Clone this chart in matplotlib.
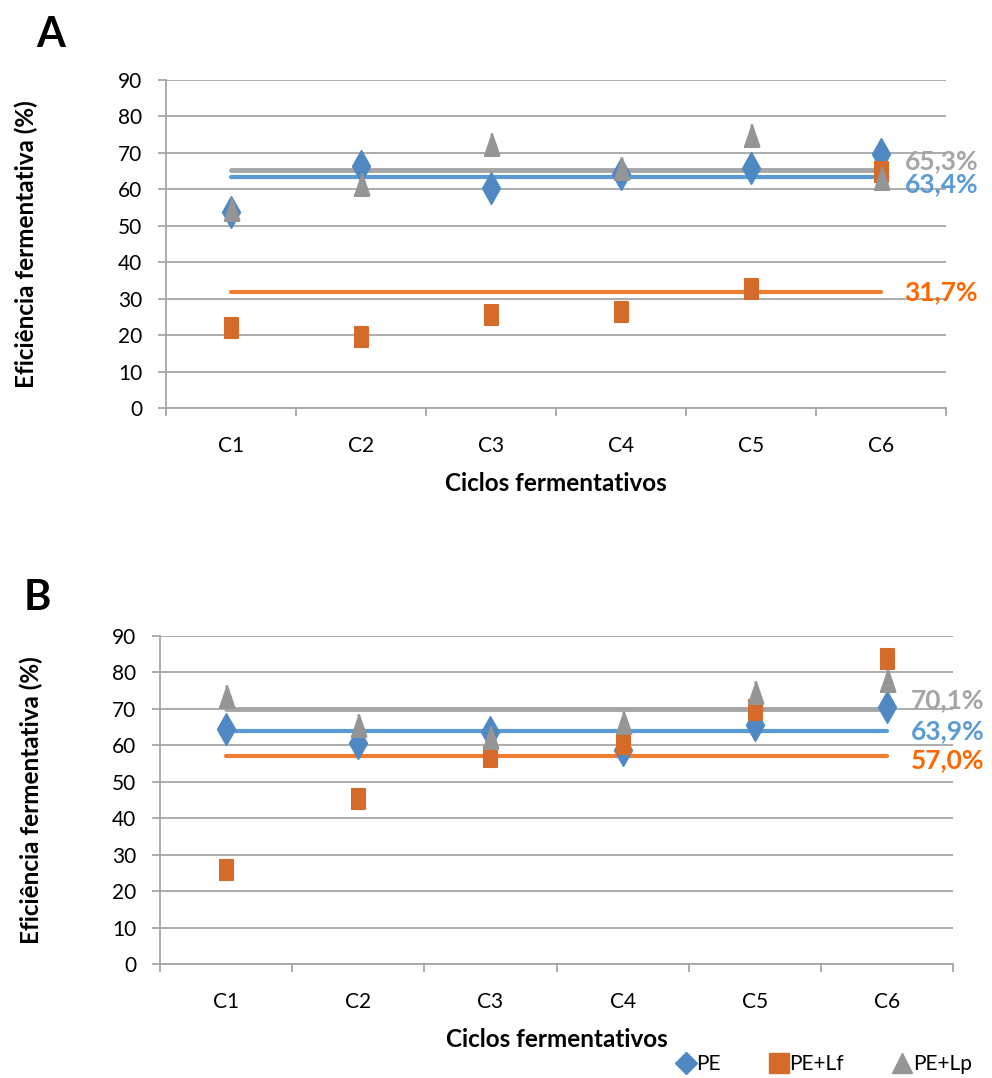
import numpy as np
import matplotlib
matplotlib.use("Agg")
import matplotlib.pyplot as plt
from matplotlib.lines import Line2D

plt.rcParams['font.family'] = ['Lato', 'DejaVu Sans']

ciclos = ['C1', 'C2', 'C3', 'C4', 'C5', 'C6']

# painel A
pe_a = [53.8, 66.3, 60.3, 64.3, 65.9, 69.8]
lf_a = [22.0, 19.5, 25.5, 26.3, 32.6, 64.8]
lp_a = [54.6, 61.5, 72.4, 65.9, 75.0, 63.0]
media_a = [63.4, 31.7, 65.3]  # PE, PE+Lf, PE+Lp

# painel B
pe_b = [64.5, 60.6, 63.7, 58.7, 65.6, 70.5]
lf_b = [25.8, 45.3, 56.8, 60.4, 69.7, 83.7]
lp_b = [73.6, 65.6, 62.3, 66.4, 74.6, 78.0]
media_b = [63.9, 57.0, 70.1]

yticks = [0, 10, 20, 30, 40, 50, 60, 70, 80, 90]

c_pe, c_lf, c_lp = '#4F88C2', '#D56B2A', '#959595'
c_mpe, c_mlf, c_mlp = '#5B9BD5', '#ED7D31', '#A5A5A5'
c_tpe, c_tlf, c_tlp = '#5B9BD5', '#FF6600', '#A5A5A5'

grid_c = '#A6A6A6'

sq = [(-0.32, -0.5), (0.32, -0.5), (0.32, 0.5), (-0.32, 0.5)]
tri = [(-0.34, -0.5), (0.34, -0.5), (0.0, 0.5)]

W, H = 992, 1078
fig = plt.figure(figsize=(W / 100, H / 100), dpi=100)


def painel(rect, pe, lf, lp, medias, letra, letra_xy, label_y, ypad):
    ax = fig.add_axes(rect)
    x = np.arange(1, len(ciclos) + 1)
    ax.set_xlim(0.5, 6.5)
    ax.set_ylim(0, 90)
    ax.set_yticks(yticks)
    ax.yaxis.grid(True, color=grid_c, lw=1.3, zorder=0)
    ax.set_axisbelow(True)
    for s in ['top', 'right']:
        ax.spines[s].set_visible(False)
    for s in ['left', 'bottom']:
        ax.spines[s].set_color(grid_c)
        ax.spines[s].set_linewidth(1.3)
    ax.tick_params(axis='y', length=6, color=grid_c, width=1.3, pad=11, labelsize=15)
    ax.set_xticks(np.arange(0.5, 7, 1))
    ax.set_xticklabels([])
    ax.tick_params(axis='x', which='major', length=6, color=grid_c, width=1.3)
    ax.set_xticks(x, minor=True)
    ax.set_xticklabels(ciclos, minor=True)
    ax.tick_params(axis='x', which='minor', length=0, pad=20, labelsize=15)

    # linhas de media
    m_pe, m_lf, m_lp = medias
    ax.plot([1, 6], [m_lf, m_lf], color=c_mlf, lw=3, solid_capstyle='round', zorder=2)
    ax.plot([1, 6], [m_lp, m_lp], color=c_mlp, lw=3.5, solid_capstyle='round', zorder=2)
    ax.plot([1, 6], [m_pe, m_pe], color=c_mpe, lw=3, solid_capstyle='round', zorder=2)

    ax.plot(x, pe, ls='none', marker='d', ms=16, color=c_pe, mec=c_pe, zorder=3)
    ax.plot(x, lf, ls='none', marker=sq, ms=15, color=c_lf, mec=c_lf, mew=1.5,
            zorder=4)
    ax.plot(x, lp, ls='none', marker=tri, ms=16, color=c_lp, mec=c_lp, mew=2,
            zorder=5)

    # rotulos de media
    tx = 6.18
    ty = label_y
    ax.text(tx, ty[2], f"{m_lp:.1f}%".replace('.', ','), color=c_tlp,
            fontsize=19, fontweight='bold', va='center', ha='left', clip_on=False)
    ax.text(tx, ty[0], f"{m_pe:.1f}%".replace('.', ','), color=c_tpe,
            fontsize=19, fontweight='bold', va='center', ha='left', clip_on=False)
    ax.text(tx, ty[1], f"{m_lf:.1f}%".replace('.', ','), color=c_tlf,
            fontsize=19, fontweight='bold', va='center', ha='left', clip_on=False)

    ax.set_xlabel('Ciclos fermentativos', fontsize=17.5, fontweight='bold',
                  labelpad=12)
    ax.set_ylabel('Eficiência fermentativa (%)', fontsize=17.5, fontweight='bold',
                  labelpad=ypad)
    fig.text(letra_xy[0] / W, 1 - letra_xy[1] / H, letra, fontsize=30,
             fontweight='bold', ha='center', va='center')
    return ax


ax_a = painel([166 / W, 1 - 408 / H, 780 / W, 328 / H], pe_a, lf_a, lp_a,
              media_a, 'A', (51, 35), (63.4 - 2.0, 31.7, 65.3 + 2.3), 58)
ax_b = painel([160 / W, 1 - 964 / H, 793 / W, 328 / H], pe_b, lf_b, lp_b,
              media_b, 'B', (37, 598), (63.9, 57.0 - 1.0, 70.1 + 2.3), 50)

handles = [
    Line2D([], [], ls='none', marker='D', ms=11, color=c_pe),
    Line2D([], [], ls='none', marker='s', ms=14, color=c_lf),
    Line2D([], [], ls='none', marker='^', ms=15, color=c_lp),
]
fig.legend(handles, ['PE', 'PE+Lf', 'PE+Lp'], loc='center right',
           bbox_to_anchor=(982 / W, 1 - 1064 / H), ncol=3, frameon=False,
           fontsize=15, handletextpad=0.0, columnspacing=2.3, handlelength=1.0,
           borderpad=0)

fig.savefig('out.png', dpi=100)
